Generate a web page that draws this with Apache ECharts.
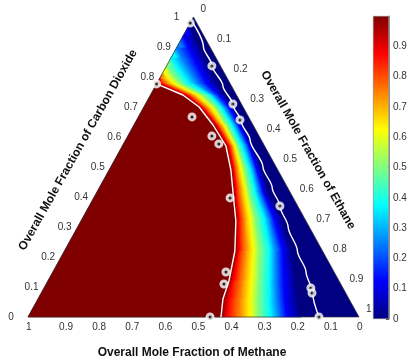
<!DOCTYPE html>
<html><head><meta charset="utf-8">
<script src="https://cdn.jsdelivr.net/npm/echarts@6/dist/echarts.min.js"></script>
<style>html,body{margin:0;padding:0;background:#fff}#c{width:420px;height:364px}</style>
</head><body><div id="c"></div>
<script>
// ---------- data ----------
const tickValues = [0, 0.1, 0.2, 0.3, 0.4, 0.5, 0.6, 0.7, 0.8, 0.9, 1];
const tickLabels = ['0', '0.1', '0.2', '0.3', '0.4', '0.5', '0.6', '0.7', '0.8', '0.9', '1'];
const colorbarLabels = ['0', '0.1', '0.2', '0.3', '0.4', '0.5', '0.6', '0.7', '0.8', '0.9'];

// contour levels of the colour field and the CO2 rows at which they were read
const contourLevels = [0, 0.125, 0.25, 0.375, 0.5, 0.625, 0.75, 0.875, 1];
const contourCO2 = [0.977, 0.937, 0.897, 0.863, 0.837, 0.817, 0.80, 0.787, 0.777, 0.74, 0.70, 0.64, 0.57, 0.49, 0.42, 0.32, 0.22, 0.12, 0.06, 0];
// methane fraction of each contour on those rows (null: contour not yet reached)
const methaneLevel000 = [0.023, 0.027, 0.030, 0.032, 0.034, 0.035, 0.036, 0.037, 0.038, 0.035, 0.028, 0.031, 0.035, 0.048, 0.065, 0.070, 0.092, 0.130, 0.154, 0.175];
const methaneLevel125 = [null, 0.063, 0.066, 0.067, 0.069, 0.069, 0.070, 0.070, 0.071, 0.053, 0.043, 0.043, 0.047, 0.063, 0.080, 0.094, 0.120, 0.167, 0.194, 0.218];
const methaneLevel250 = [null, null, 0.103, 0.103, 0.101, 0.100, 0.099, 0.098, 0.098, 0.068, 0.055, 0.052, 0.056, 0.072, 0.092, 0.109, 0.141, 0.191, 0.218, 0.242];
const methaneLevel375 = [null, null, null, 0.137, 0.134, 0.131, 0.129, 0.127, 0.125, 0.080, 0.067, 0.064, 0.069, 0.084, 0.104, 0.127, 0.159, 0.212, 0.242, 0.269];
const methaneLevel500 = [null, null, null, null, 0.163, 0.159, 0.155, 0.152, 0.149, 0.101, 0.082, 0.079, 0.081, 0.099, 0.122, 0.151, 0.189, 0.242, 0.275, 0.303];
const methaneLevel625 = [null, null, null, null, null, 0.183, 0.178, 0.174, 0.170, 0.119, 0.097, 0.088, 0.090, 0.112, 0.134, 0.169, 0.210, 0.266, 0.299, 0.329];
const methaneLevel750 = [null, null, null, null, null, null, 0.200, 0.194, 0.189, 0.135, 0.112, 0.100, 0.099, 0.124, 0.150, 0.187, 0.234, 0.294, 0.330, 0.363];
const methaneLevel875 = [null, null, null, null, null, null, null, 0.213, 0.207, 0.150, 0.124, 0.109, 0.108, 0.133, 0.162, 0.203, 0.253, 0.321, 0.363, 0.399];
const methaneLevel100 = [null, null, null, null, null, null, null, null, 0.223, 0.162, 0.133, 0.121, 0.117, 0.142, 0.171, 0.212, 0.265, 0.333, 0.381, 0.417];

// right white curve
const rightCurveCO2     = [0.985, 0.90, 0.84, 0.77, 0.71, 0.65, 0.59, 0.50, 0.43, 0.37, 0.30, 0.22, 0.15, 0.08, 0.0];
const rightCurveMethane = [0.012, 0.020, 0.025, 0.026, 0.027, 0.030, 0.034, 0.040, 0.047, 0.054, 0.064, 0.076, 0.085, 0.100, 0.121];

// experimental points
const pointMethane = [0.020, 0.026, 0.026, 0.031, 0.054, 0.097, 0.102, 0.121, 0.223, 0.171, 0.143, 0.135, 0.191, 0.327, 0.353, 0.450];
const pointCO2     = [0.980, 0.837, 0.710, 0.657, 0.370, 0.097, 0.080, 0.000, 0.777, 0.667, 0.603, 0.577, 0.397, 0.150, 0.110, 0.000];

// ---------- helpers ----------
const FONT = '"Liberation Sans", Arial, Helvetica, sans-serif';
const contours = [methaneLevel000, methaneLevel125, methaneLevel250, methaneLevel375, methaneLevel500, methaneLevel625, methaneLevel750, methaneLevel875, methaneLevel100];
function tern(m, c) { return [1 - m - 0.5 * c, c]; }   // ternary -> cartesian value space
function jet(v) {
  const cl = x => Math.max(0, Math.min(1, x));
  const r = cl(Math.min(4 * v - 1.5, -4 * v + 4.5));
  const g = cl(Math.min(4 * v - 0.5, -4 * v + 3.5));
  const b = cl(Math.min(4 * v + 0.5, -4 * v + 2.5));
  return 'rgb(' + Math.round(r * 255) + ',' + Math.round(g * 255) + ',' + Math.round(b * 255) + ')';
}
function ptAt(i, r) {
  const m = contours[i][r], c = contourCO2[r];
  return tern(m == null ? 1 - c : m, c);
}
const quadData = [];
for (let i = 0; i < contours.length - 1; i++)
  for (let r = 0; r < contourCO2.length - 1; r++)
    if (contours[i][r] != null) quadData.push([i, r]);

function renderQuad(params, api) {
  const i = api.value(0), r = api.value(1);
  const A = api.coord(ptAt(i, r)), B = api.coord(ptAt(i, r + 1));
  const C = api.coord(ptAt(i + 1, r + 1)), D = api.coord(ptAt(i + 1, r));
  let dx = B[0] - A[0], dy = B[1] - A[1];
  let len = Math.hypot(dx, dy);
  if (len < 1e-6) { dx = C[0] - D[0]; dy = C[1] - D[1]; len = Math.hypot(dx, dy) || 1; }
  const nx = -dy / len, ny = dx / len;
  const P = [(A[0] + B[0]) / 2, (A[1] + B[1]) / 2], Q = [(C[0] + D[0]) / 2, (C[1] + D[1]) / 2];
  let L = (Q[0] - P[0]) * nx + (Q[1] - P[1]) * ny;
  if (Math.abs(L) < 0.3) L = L < 0 ? -0.3 : 0.3;
  const grad = { type: 'linear', x: P[0], y: P[1], x2: P[0] + nx * L, y2: P[1] + ny * L, global: true,
    colorStops: [{ offset: 0, color: jet(contourLevels[i]) }, { offset: 1, color: jet(contourLevels[i + 1]) }] };
  return { type: 'polygon', shape: { points: [A, B, C, D] }, style: { fill: grad, stroke: grad, lineWidth: 0.7 } };
}

const redRegion = [];
contourCO2.forEach((c, r) => { if (methaneLevel100[r] != null) redRegion.push(tern(methaneLevel100[r], c)); });
const redCurveLine = redRegion.slice();
redRegion.push(tern(1, 0));

const jetStops = [];
for (let k = 0; k <= 8; k++) jetStops.push({ offset: k / 8, color: jet(k / 8) });

function textEl(x, y, text, align, vAlign, size) {
  return { type: 'text', x: x, y: y, style: { text: text, fill: '#333', font: size + 'px ' + FONT,
    align: align, textAlign: align, verticalAlign: vAlign, textVerticalAlign: vAlign } };
}

const option = {
  animation: false,
  grid: [
    { left: 28, top: 17, width: 331, height: 300 },
    { left: 373, top: 16, width: 16, height: 303 }
  ],
  xAxis: [
    { type: 'value', min: 0, max: 1, show: false, gridIndex: 0 },
    { type: 'category', data: ['c'], show: false, gridIndex: 1 }
  ],
  yAxis: [
    { type: 'value', min: 0, max: 1, show: false, gridIndex: 0 },
    { type: 'value', gridIndex: 1, min: 0, max: 1, interval: 0.1, position: 'right',
      axisLine: { show: true, lineStyle: { color: '#777', width: 0.8 } },
      axisTick: { show: true, inside: true, length: 3, lineStyle: { color: '#555' } },
      splitLine: { show: false },
      axisLabel: { fontSize: 10, color: '#333', margin: 4, fontFamily: FONT, showMaxLabel: false,
        formatter: v => colorbarLabels[Math.round(v * 10)] || '' } }
  ],
  series: [
    { type: 'custom', silent: true, z: 1, data: [[0, 0]],
      renderItem: (p, api) => ({ type: 'polygon', shape: { points: [api.coord(tern(1, 0)), api.coord(tern(0, 1)), api.coord(tern(0, 0))] },
        style: { fill: jet(0) } }) },
    { type: 'custom', silent: true, z: 2, data: quadData, renderItem: renderQuad },
    { type: 'custom', silent: true, z: 3, data: [[0, 0]],
      renderItem: (p, api) => ({ type: 'polygon', shape: { points: redRegion.map(q => api.coord(q)) },
        style: { fill: jet(1), stroke: jet(1), lineWidth: 0.6 } }) },
    { type: 'custom', silent: true, z: 4, data: [[0, 0]],
      renderItem: (p, api) => ({ type: 'polygon', shape: { points: [api.coord(tern(1, 0)), api.coord(tern(0, 1)), api.coord(tern(0, 0))] },
        style: { fill: null, stroke: '#333', lineWidth: 0.7 } }) },
    { type: 'line', silent: true, z: 5, data: redCurveLine, showSymbol: false,
      lineStyle: { color: '#fff', width: 1.4 } },
    { type: 'line', silent: true, z: 5, data: rightCurveCO2.map((c, k) => tern(rightCurveMethane[k], c)), showSymbol: false,
      smooth: 0.3, smoothMonotone: 'y', lineStyle: { color: '#fff', width: 1.4 } },
    { type: 'scatter', silent: true, z: 6, data: pointCO2.map((c, k) => tern(pointMethane[k], c)), symbolSize: 6,
      itemStyle: { color: '#222', borderColor: '#fff', borderWidth: 3 } },
    // bottom axis labels (methane)
    { type: 'custom', silent: true, z: 7, data: tickValues.map((v, k) => [k, 0]),
      renderItem: (p, api) => { const k = api.value(0); const q = api.coord(tern(tickValues[k], 0));
        return textEl(q[0] - 2, q[1] + 10, tickLabels[k], 'left', 'middle', 10); } },
    // left axis labels (CO2)
    { type: 'custom', silent: true, z: 7, data: tickValues.map((v, k) => [k, 0]),
      renderItem: (p, api) => { const k = api.value(0); const v = tickValues[k]; const q = api.coord(tern(1 - v, v));
        const dx = tickLabels[k].length === 1 ? -17 : -13;
        return textEl(q[0] + dx, q[1] + 0.5, tickLabels[k], 'center', 'middle', 10); } },
    // right axis labels (ethane)
    { type: 'custom', silent: true, z: 7, data: tickValues.map((v, k) => [k, 0]),
      renderItem: (p, api) => { const k = api.value(0); const v = tickValues[k]; const q = api.coord(tern(0, 1 - v));
        return textEl(q[0] + 7, q[1] - 8, tickLabels[k], 'left', 'middle', 10); } },
    // colorbar
    { type: 'bar', silent: true, xAxisIndex: 1, yAxisIndex: 1, data: [1], barWidth: '100%',
      itemStyle: { color: { type: 'linear', x: 0, y: 1, x2: 0, y2: 0, colorStops: jetStops }, borderColor: '#777', borderWidth: 0.6 } }
  ],
  graphic: [
    { type: 'text', x: 192, y: 353, silent: true,
      style: { text: 'Overall Mole Fraction of Methane', font: 'bold 12px ' + FONT, fill: '#111', align: 'center', verticalAlign: 'middle', textAlign: 'center', textVerticalAlign: 'middle' } },
    { type: 'text', x: 78, y: 150, rotation: 60.5 * Math.PI / 180, silent: true,
      style: { text: 'Overall Mole Fraction of Carbon Dioxide', font: 'bold 12px ' + FONT, fill: '#111', align: 'center', verticalAlign: 'middle', textAlign: 'center', textVerticalAlign: 'middle' } },
    { type: 'text', x: 308, y: 150, rotation: -60.5 * Math.PI / 180, silent: true,
      style: { text: 'Overall Mole Fraction of Ethane', font: 'bold 12px ' + FONT, fill: '#111', align: 'center', verticalAlign: 'middle', textAlign: 'center', textVerticalAlign: 'middle' } }
  ]
};
const chart = echarts.init(document.getElementById('c'));
chart.setOption(option);
</script>
</body></html>
